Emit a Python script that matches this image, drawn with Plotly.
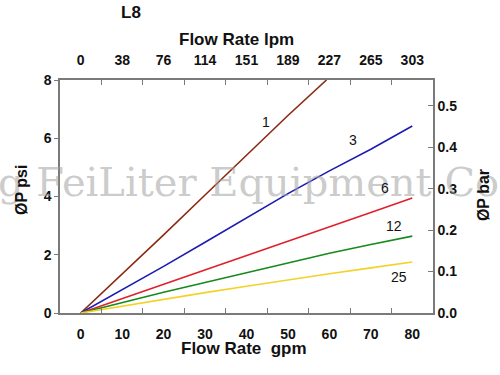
import plotly.graph_objects as go

# ---- data ----
gpm_1 = [0, 10, 20, 30, 40, 50, 59.3]
psi_1 = [0, 1.33, 2.68, 4.05, 5.40, 6.78, 8.0]

gpm_grid = [0, 10, 20, 30, 40, 50, 60, 70, 80]
psi_3 = [0, 0.80, 1.60, 2.43, 3.27, 4.10, 4.88, 5.62, 6.42]
psi_6 = [0, 0.49, 0.98, 1.48, 1.97, 2.47, 2.96, 3.45, 3.95]
psi_12 = [0, 0.36, 0.71, 1.05, 1.39, 1.73, 2.05, 2.35, 2.64]
psi_25 = [0, 0.24, 0.47, 0.70, 0.92, 1.14, 1.35, 1.55, 1.75]

series_names = ["1", "3", "6", "12", "25"]
label_pos = {"1": (44.8, 6.56), "3": (65.8, 5.94), "6": (73.3, 4.29),
             "12": (75.7, 2.99), "25": (76.9, 1.24)}

gpm_ticks = [0, 10, 20, 30, 40, 50, 60, 70, 80]
lpm_labels = ["0", "38", "76", "114", "151", "189", "227", "265", "303"]
minor_ticks = [-5, 5, 15, 25, 35, 45, 55, 65, 75, 85]
psi_ticks = [0, 2, 4, 6, 8]
bar_ticks = [0.0, 0.1, 0.2, 0.3, 0.4, 0.5]
bar_labels = ["0.0", "0.1", "0.2", "0.3", "0.4", "0.5"]

colors = {"1": "#8B2A12", "3": "#1C1CB0", "6": "#E0202C", "12": "#168A1C", "25": "#F2D22A"}

fig = go.Figure()
series = [("1", gpm_1, psi_1), ("3", gpm_grid, psi_3), ("6", gpm_grid, psi_6),
          ("12", gpm_grid, psi_12), ("25", gpm_grid, psi_25)]
for name, xs, ys in series:
    fig.add_trace(go.Scatter(x=xs, y=ys, mode="lines", name=name,
                             line=dict(color=colors[name], width=1.6),
                             showlegend=False, hoverinfo="skip"))

FONT = "Liberation Sans, Arial, sans-serif"
AX = "#7a7a7a"
rng = [-5, 85]
TF = dict(family=FONT, size=14, color="#111", weight="bold")

common = dict(range=rng, showgrid=False, zeroline=False, fixedrange=True, automargin=False)
fig.update_layout(
    width=500, height=375,
    margin=dict(l=60, r=67, t=80, b=62, autoexpand=False),
    paper_bgcolor="white", plot_bgcolor="white",
    font=dict(family=FONT, color="#111"),
    xaxis=dict(**common, tickvals=minor_ticks, ticks="inside", ticklen=5,
               tickcolor=AX, tickwidth=1.3, showticklabels=False,
               showline=True, linecolor=AX, linewidth=1.5),
    xaxis2=dict(**common, overlaying="x", side="top", anchor="y",
                tickvals=minor_ticks, ticks="inside", ticklen=5, tickcolor=AX,
                tickwidth=1.3, showticklabels=False,
                showline=True, linecolor=AX, linewidth=1.5),
    xaxis3=dict(**common, overlaying="x", side="bottom", anchor="y",
                tickvals=gpm_ticks, ticks="", showline=False, tickfont=TF,
                ticklabelstandoff=11),
    xaxis4=dict(**common, overlaying="x", side="top", anchor="y",
                tickvals=gpm_ticks, ticktext=lpm_labels, ticks="", showline=False,
                tickfont=TF, ticklabelstandoff=11),
    yaxis=dict(range=[0, 8], tickvals=psi_ticks, ticks="outside", ticklen=4,
               tickcolor=AX, tickwidth=1.3, showline=True, linecolor=AX,
               linewidth=1.5, showgrid=False, zeroline=False, fixedrange=True,
               automargin=False, tickfont=TF),
    yaxis2=dict(range=[0, 0.562], overlaying="y", side="right", anchor="x",
                tickvals=bar_ticks, ticktext=bar_labels, ticks="inside", ticklen=5,
                tickcolor=AX, tickwidth=1.3, showline=True, linecolor=AX,
                linewidth=1.5, showgrid=False, zeroline=False, fixedrange=True,
                automargin=False, tickfont=TF),
)

# invisible traces so the overlay axes render
fig.add_trace(go.Scatter(x=[None], y=[None], xaxis="x2", showlegend=False))
fig.add_trace(go.Scatter(x=[None], y=[None], xaxis="x3", showlegend=False))
fig.add_trace(go.Scatter(x=[None], y=[None], xaxis="x4", showlegend=False))
fig.add_trace(go.Scatter(x=[None], y=[None], yaxis="y2", showlegend=False))

# watermark (drawn first so other annotations sit on top)
fig.add_annotation(x=(-4 - 60) / 373, y=(313 - 182) / 233, xref="paper", yref="paper",
                   text="g FeiLiter Equipment Co., Ltd", showarrow=False,
                   xanchor="left", yanchor="middle",
                   font=dict(family="DejaVu Serif, Liberation Serif, serif",
                             size=40, color="rgba(160,160,160,0.55)"))

for name in series_names:
    gx, gy = label_pos[name]
    fig.add_annotation(x=gx, y=gy, xref="x", yref="y", text=name, showarrow=False,
                       font=dict(family=FONT, size=14, color="#111"))

def ann(text, x, y, size, angle=0, bold=True):
    fig.add_annotation(x=x, y=y, xref="paper", yref="paper", text=text,
                       showarrow=False, textangle=angle,
                       xanchor="center", yanchor="middle",
                       font=dict(family=FONT, size=size, color="#111",
                                 weight="bold" if bold else "normal"))

ann("L8", 0.19, 1.2876, 17)
ann("Flow Rate lpm", 0.4745, 1.1717, 17)
ann("Flow Rate  gpm", 0.4933, -0.1545, 17)
ann("ØP psi", -0.1019, 0.528, 16, angle=-90)
ann("ØP bar", 1.134, 0.506, 16, angle=-90)

fig.write_html("out.html", config={"displayModeBar": False},
               post_script="document.body.style.margin='0';document.body.style.overflow='hidden';")
